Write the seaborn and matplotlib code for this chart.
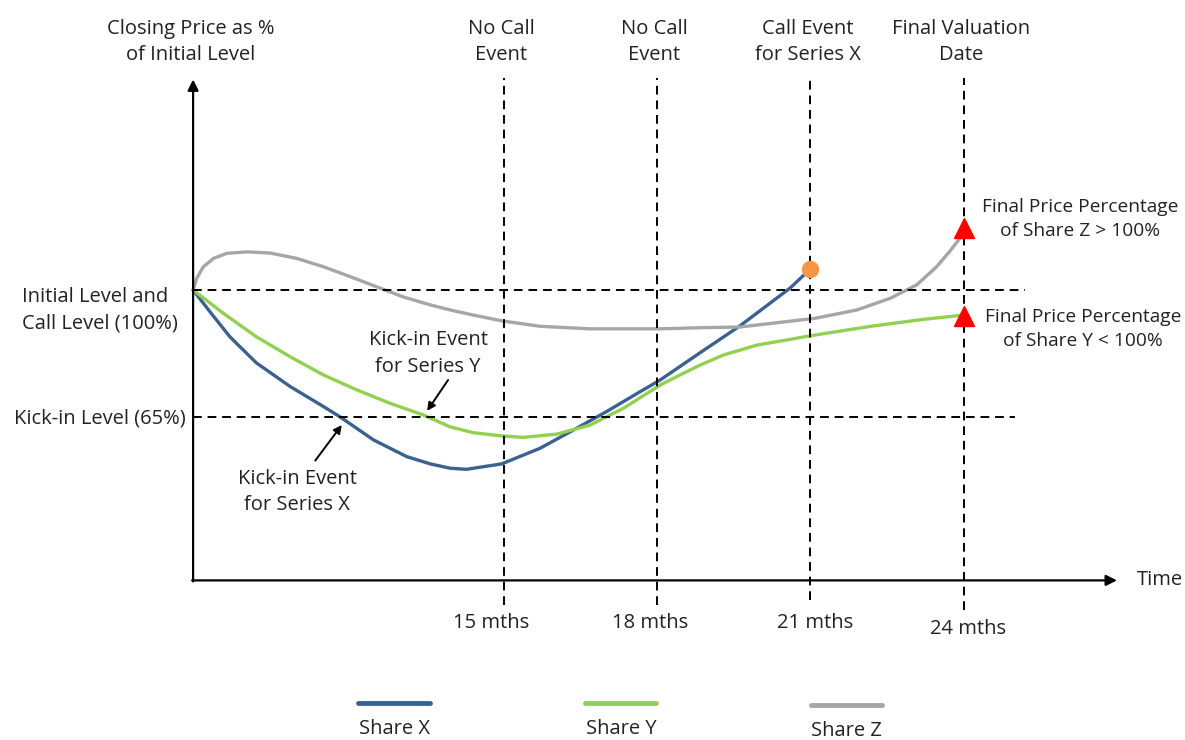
import matplotlib
matplotlib.use('Agg')
import matplotlib.pyplot as plt
from matplotlib.lines import Line2D
import numpy as np
import pandas as pd
import seaborn as sns

sns.set_style('white')
plt.rcParams['font.family'] = ['Open Sans', 'DejaVu Sans']
plt.rcParams['font.size'] = 14.5

share_x_months = [8.92, 9.25, 9.64, 10.16, 10.82, 11.47, 11.79, 12.45, 13.10, 13.56, 13.95, 14.27,
                  14.96, 15.71, 16.36, 17.01, 17.67, 18.06, 18.84, 19.62, 20.60, 21.0]
share_x_level = [100, 94.0, 87.1, 79.9, 73.4, 67.9, 65.1, 58.7, 54.1, 52.1, 50.9, 50.6,
                 52.1, 56.4, 61.4, 66.5, 72.0, 75.2, 82.7, 90.1, 100.5, 105.8]

share_y_months = [8.92, 9.51, 10.16, 10.82, 11.47, 12.12, 12.77, 13.42, 13.95, 14.40, 14.96, 15.38,
                  16.04, 16.69, 17.34, 18.06, 18.45, 18.84, 19.30, 19.95, 21.09, 22.23, 23.21, 24.0]
share_y_level = [100, 93.6, 87.1, 81.6, 76.6, 72.5, 68.8, 65.6, 62.3, 60.7, 59.8, 59.4,
                 60.3, 62.8, 67.4, 73.8, 76.6, 79.3, 82.1, 84.8, 87.6, 90.1, 91.9, 93.1]

share_z_months = [8.92, 8.99, 9.12, 9.32, 9.58, 9.97, 10.42, 10.95, 11.47, 11.99, 12.51, 13.03,
                  13.56, 13.95, 14.40, 14.96, 15.71, 16.69, 18.06, 18.84, 19.62, 21.09, 21.91,
                  22.56, 23.08, 23.47, 23.73, 24.0]
share_z_level = [100, 103.2, 106.4, 108.7, 110.1, 110.5, 110.2, 108.7, 106.4, 103.7, 100.9, 98.1,
                 95.9, 94.5, 93.1, 91.5, 90.0, 89.3, 89.3, 89.6, 89.8, 92.2, 94.5,
                 97.7, 101.4, 106.4, 110.7, 115.6]

event_months = [15, 18, 21, 24]
event_ticks = ['15 mths', '18 mths', '21 mths', '24 mths']
event_titles = ['No Call\nEvent', 'No Call\nEvent', 'Call Event\nfor Series X', 'Final Valuation\nDate']
initial_level = 100
kick_in_level = 65
call_point = (21, 105.8)
final_points_months = [24, 24]
final_points_level = [117.1, 92.8]

share_names = ['Share X', 'Share Y', 'Share Z']
colors = {'Share X': '#3b6191', 'Share Y': '#92d050', 'Share Z': '#a6a6a6'}

df = pd.concat([
    pd.DataFrame({'month': share_x_months, 'level': share_x_level, 'share': 'Share X'}),
    pd.DataFrame({'month': share_y_months, 'level': share_y_level, 'share': 'Share Y'}),
    pd.DataFrame({'month': share_z_months, 'level': share_z_level, 'share': 'Share Z'}),
])

fig = plt.figure(figsize=(11.85, 7.40), dpi=100)
ax = fig.add_axes([0, 0, 1, 1])
ax.set_xlim(5.141, 28.331)
ax.set_ylim(-23.97, 179.89)
ax.axis('off')

x0, y0 = 8.92, 20
txt = '#222222'
ls_ = 1.4

# axes with arrows
ax.annotate('', xy=(x0, 158), xytext=(x0, y0 - 0.3),
            arrowprops=dict(arrowstyle='-|>', lw=1.6, color='black', mutation_scale=16, shrinkA=0, shrinkB=0))
ax.annotate('', xy=(27.0, y0), xytext=(x0 - 0.02, y0),
            arrowprops=dict(arrowstyle='-|>', lw=1.6, color='black', mutation_scale=16, shrinkA=0, shrinkB=0))

# dashed guide lines
dash = (0, (4.5, 3))
line_bottoms = [13.2, 13.2, 14.5, 11.8]
for m, b in zip(event_months, line_bottoms):
    ax.plot([m, m], [b, 158.5], color='black', lw=1.4, ls=dash, zorder=3)
ax.plot([x0, 25.2], [initial_level, initial_level], color='black', lw=1.4, ls=dash, zorder=3)
ax.plot([x0, 25.0], [kick_in_level, kick_in_level], color='black', lw=1.4, ls=dash, zorder=3)

sns.lineplot(data=df, x='month', y='level', hue='share', palette=colors, sort=False,
             estimator=None, lw=2.4, legend=False, ax=ax, zorder=2)

ax.plot(*call_point, marker='o', ms=11.5, color='#f79646', ls='none', zorder=5)
ax.plot(final_points_months, final_points_level, marker='^', ms=14, color='#ff0000', ls='none', zorder=5)

# text labels
ax.text(8.88, 168.2, 'Closing Price as %\nof Initial Level', ha='center', va='center',
        color=txt, linespacing=ls_)
for m, t in zip(event_months, event_titles):
    ax.text(m - 0.05, 168.2, t, ha='center', va='center', color=txt, linespacing=ls_)
tick_dx = [-0.25, -0.13, 0.1, 0.08]
tick_y = [8.3, 8.3, 8.3, 6.7]
for m, t, dx, yy in zip(event_months, event_ticks, tick_dx, tick_y):
    ax.text(m + dx, yy, t, ha='center', va='center', color=txt)
ax.text(27.39, y0, 'Time', ha='left', va='center', color=txt)

ax.text(5.57, 94.5, 'Initial Level and\nCall Level (100%)', ha='left', va='center',
        color=txt, linespacing=ls_ + 0.05)
ax.text(8.78, 64.7, 'Kick-in Level (65%)', ha='right', va='center', color=txt)

ax.text(13.52, 82.5, 'Kick-in Event\nfor Series Y', ha='center', va='center', color=txt,
        linespacing=ls_ + 0.05)
ax.annotate('', xy=(13.50, 66.7), xytext=(13.91, 75.2),
            arrowprops=dict(arrowstyle='-|>', lw=1.4, color='black', mutation_scale=12,
                            shrinkA=0, shrinkB=0))
ax.text(10.96, 44.3, 'Kick-in Event\nfor Series X', ha='center', va='center', color=txt, linespacing=ls_)
ax.annotate('', xy=(11.83, 62.8), xytext=(11.31, 53.0),
            arrowprops=dict(arrowstyle='-|>', lw=1.4, color='black', mutation_scale=12,
                            shrinkA=0, shrinkB=0))

ax.text(26.28, 119.5, 'Final Price Percentage\nof Share Z > 100%', ha='center', va='center',
        color=txt, linespacing=ls_, fontsize=13.8)
ax.text(26.33, 89.2, 'Final Price Percentage\nof Share Y < 100%', ha='center', va='center',
        color=txt, linespacing=ls_, fontsize=13.8)

# legend drawn below the chart, handle above label
legend_x = [(0.302, 0.363), (0.494, 0.554), (0.684, 0.744)]
legend_y = [0.050, 0.050, 0.047]
for name, (xa, xb), yy in zip(share_names, legend_x, legend_y):
    fig.add_artist(Line2D([xa, xb], [yy, yy], color=colors[name], lw=3.5, transform=fig.transFigure))
    fig.text((xa + xb) / 2, yy - 0.021, name, ha='center', va='top', color=txt)

fig.savefig('out.png', dpi=100)
